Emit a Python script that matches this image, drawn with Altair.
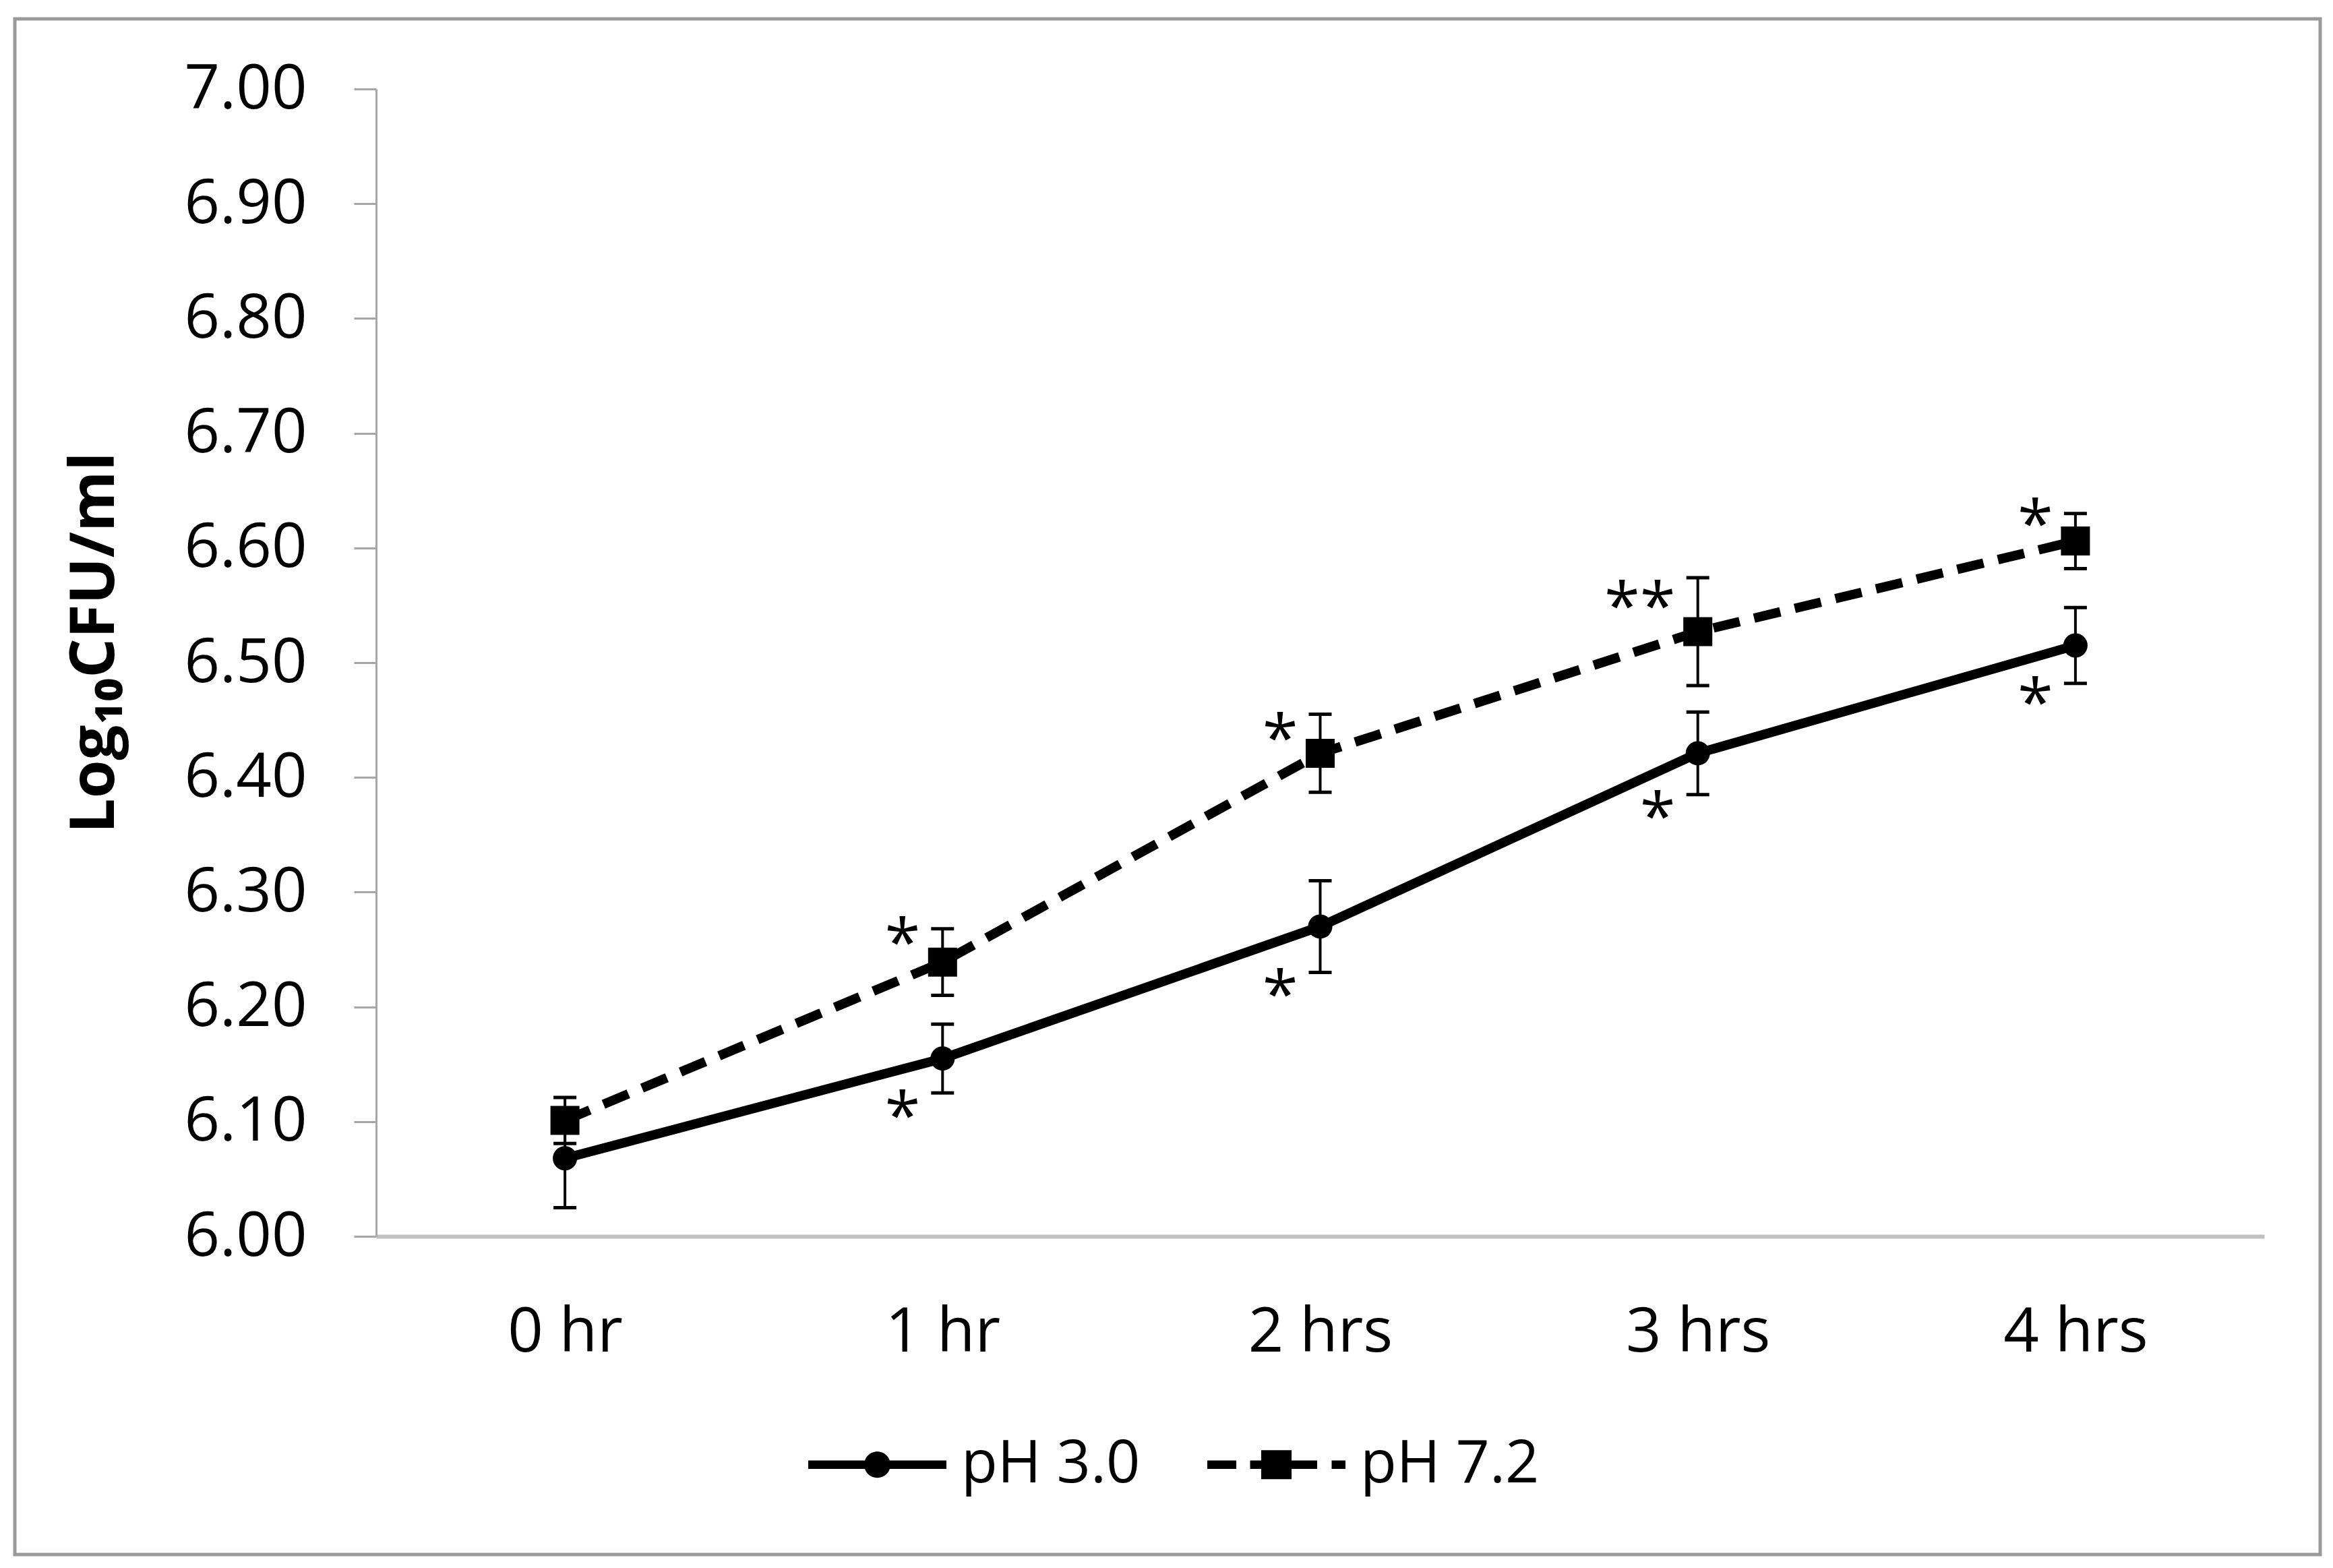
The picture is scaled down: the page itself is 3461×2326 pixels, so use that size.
import altair as alt
import pandas as pd

# ---- data ----
times = ["0 hr", "1 hr", "2 hrs", "3 hrs", "4 hrs"]
series_names = ["pH 3.0", "pH 7.2"]
ph30_mean = [6.068, 6.155, 6.270, 6.421, 6.515]
ph30_err = [0.043, 0.030, 0.040, 0.036, 0.033]
ph72_mean = [6.101, 6.239, 6.421, 6.527, 6.606]
ph72_err = [0.020, 0.029, 0.034, 0.047, 0.024]

star_times = ["1 hr", "1 hr", "2 hrs", "2 hrs", "3 hrs", "3 hrs", "4 hrs", "4 hrs"]
star_labels = ["*", "*", "*", "*", "**", "*", "*", "*"]
star_y = [6.265, 6.114, 6.443, 6.220, 6.558, 6.375, 6.630, 6.474]

rows = []
for name, means, errs in [(series_names[0], ph30_mean, ph30_err),
                          (series_names[1], ph72_mean, ph72_err)]:
    for t, m, e in zip(times, means, errs):
        rows.append({"series": name, "time": t, "mean": m, "lo": m - e, "hi": m + e})
df = pd.DataFrame(rows)
stars = pd.DataFrame({"time": star_times, "label": star_labels, "sy": star_y})

FONT = "Open Sans"
TITLE = "Log\u2081\u2080CFU/ml"

xscale = alt.Scale(type="point", padding=0.5, domain=times)
xaxis = alt.Axis(title=None, ticks=False, labelFont=FONT, labelFontSize=92,
                 labelColor="black", labelPadding=97, labelAngle=0, labelLimit=0,
                 domainColor="#c0c0c0", domainWidth=6)
yscale = alt.Scale(domain=[6.0, 7.0], nice=False, zero=False)
yaxis = alt.Axis(title=TITLE, values=[6.0 + i / 10 for i in range(11)], format=".2f",
                 grid=False, labelFont=FONT, labelFontSize=92, labelColor="black",
                 labelPadding=70, labelLimit=0, tickSize=33, tickWidth=3,
                 tickColor="#a6a6a6", domainColor="#a6a6a6", domainWidth=3,
                 labelFlush=False, labelOverlap=False, titleFont=FONT,
                 titleFontSize=92, titleFontWeight="bold", titleColor="black",
                 titleAngle=270, titleX=-390, titleY=821, titleAlign="center",
                 titleBaseline="alphabetic", titleLimit=0)


def X():
    return alt.X("time:N", sort=times, scale=xscale, axis=xaxis)


def Y(field):
    return alt.Y(field + ":Q", scale=yscale, axis=yaxis)


frame = alt.Chart(pd.DataFrame({"k": [0]})).mark_rect(
    fillOpacity=0, stroke="#9a9a9a", strokeWidth=5
).encode(x=alt.value(-536), x2=alt.value(2884), y=alt.value(-104), y2=alt.value(2174))

line30 = alt.Chart(df).transform_filter(alt.datum.series == "pH 3.0").mark_line(
    color="black", strokeWidth=14).encode(x=X(), y=Y("mean"))
line72 = alt.Chart(df).transform_filter(alt.datum.series == "pH 7.2").mark_line(
    color="black", strokeWidth=14, strokeDash=[40, 22]).encode(x=X(), y=Y("mean"))

err = alt.Chart(df).mark_rule(color="black", strokeWidth=4).encode(
    x=X(), y=Y("lo"), y2=alt.Y2("hi"))
cap_lo = alt.Chart(df).mark_tick(color="black", size=34, thickness=5, opacity=1).encode(
    x=X(), y=Y("lo"))
cap_hi = alt.Chart(df).mark_tick(color="black", size=34, thickness=5, opacity=1).encode(
    x=X(), y=Y("hi"))

pts30 = alt.Chart(df).transform_filter(alt.datum.series == "pH 3.0").mark_point(
    shape="circle", filled=True, color="black", opacity=1, size=1300).encode(
    x=X(), y=Y("mean"))
pts72 = alt.Chart(df).transform_filter(alt.datum.series == "pH 7.2").mark_point(
    shape="square", filled=True, color="black", opacity=1, size=1850).encode(
    x=X(), y=Y("mean"))

star_marks = alt.Chart(stars).mark_text(
    font=FONT, fontSize=96, color="black", align="right", baseline="middle",
    dx=-33, dy=20).encode(x=X(), y=Y("sy"), text="label:N")

path30 = ("M-1,-0.06H1V0.06H-1Z "
          "M-0.19,0A0.19,0.19 0 1,1 0.19,0A0.19,0.19 0 1,1 -0.19,0Z")
path72 = ("M-1,-0.06H-0.58V0.06H-1Z M-0.38,-0.06H0.59V0.06H-0.38Z "
          "M0.8,-0.06H1V0.06H0.8Z M-0.22,-0.21H0.22V0.21H-0.22Z")

legend_layer = alt.Chart(df).transform_filter("false").mark_point(
    filled=True, color="black", opacity=1).encode(
    x=X(), y=Y("mean"),
    shape=alt.Shape("series:N",
                    scale=alt.Scale(domain=series_names, range=[path30, path72]),
                    legend=alt.Legend(title=None, orient="none", direction="horizontal",
                                      legendX=641, legendY=1938, symbolSize=42025,
                                      symbolFillColor="black", symbolStrokeWidth=0,
                                      symbolOpacity=1, labelFont=FONT, labelFontSize=88,
                                      labelColor="black", labelOffset=22, labelLimit=0,
                                      columnPadding=99, padding=0, rowPadding=0)))

chart = alt.layer(frame, line30, line72, err, cap_lo, cap_hi, pts30, pts72,
                  star_marks, legend_layer).properties(
    width=2801, height=1702,
    padding={"left": 550, "top": 124, "right": 90, "bottom": 480},
    autosize=alt.AutoSizeParams(type="none"),
    background="white",
).configure_view(stroke=None)

chart.save("out.html", embed_options={"renderer": "svg", "actions": False})
